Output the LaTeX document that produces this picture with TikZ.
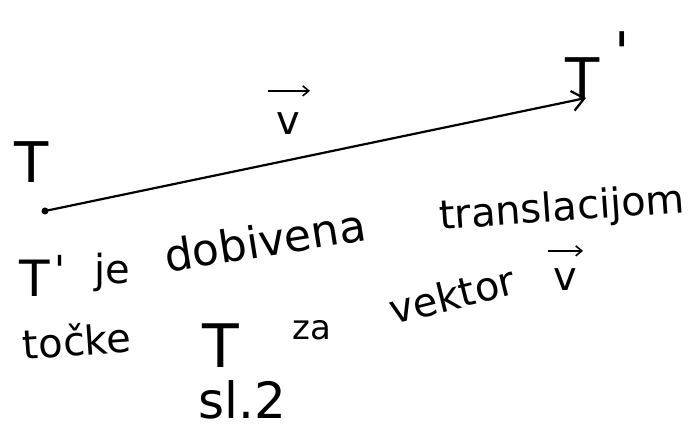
\documentclass[tikz,border=0pt]{standalone}
\usepackage{fontspec}
\setmainfont{DejaVu Sans}
\usetikzlibrary{arrows.meta}
\begin{document}
\begin{tikzpicture}[x=1pt,y=1pt,
  hand/.style={inner sep=0pt, font=\fontsize{40}{46}\selectfont},
  lbl/.style={inner sep=0pt, font=\fontsize{56}{62}\selectfont},
  vecline/.style={line width=2.2pt, -{Straight Barb[length=12pt,width=20pt,line width=2.2pt]}},
  vecmark/.style={line width=1.6pt, -{Straight Barb[length=6pt,width=10pt,line width=1.6pt]}}]
\useasboundingbox (0,0) rectangle (694,438);
\fill[white] (0,0) rectangle (694,438);
% points
\coordinate (T) at (45,227);
\coordinate (Tp) at (586,340);
\fill (T) circle (3.5pt);
\draw[vecline] (T) -- (Tp);
% labels
\node[lbl] (lT) at (32,276) {T};
\node[lbl] (lTp) at (583,360) {T};
\node[lbl, anchor=west] (lTpp) at ([xshift=14pt,yshift=26pt]lTp.east) {\textquotesingle};
\node[hand] (lv) at (288,314) {v};
\draw[vecmark] ([shift={(-20pt,22pt)}]lv.north) -- ([shift={(22pt,22pt)}]lv.north);
% text
\node[lbl, font=\fontsize{50}{56}\selectfont] (w0) at (35,160) {T};
\node[hand, anchor=west] (w0p) at ([xshift=4pt,yshift=8pt]w0.east) {\textquotesingle};
\node[hand] (w1) at (112,166) {je};
\node[hand, rotate=9, font=\fontsize{44}{50}\selectfont] (w1b) at (265,198) {dobivena};
\node[hand, rotate=4] (w2) at (562,228) {translacijom};
\node[hand, rotate=4] (w3) at (77,98) {točke};
\node[lbl, font=\fontsize{60}{66}\selectfont] (w4) at (221,92) {T};
\node[hand, font=\fontsize{34}{40}\selectfont] (w5) at (312,108) {za};
\node[hand, rotate=14] (w6) at (452,143) {vektor};
\node[hand] (w7) at (565,158) {v};
\draw[vecmark] ([shift={(-17pt,18pt)}]w7.north) -- ([shift={(18pt,18pt)}]w7.north);
\node[hand, font=\fontsize{50}{56}\selectfont] (w8) at (242,38) {sl.2};
\end{tikzpicture}
\end{document}
